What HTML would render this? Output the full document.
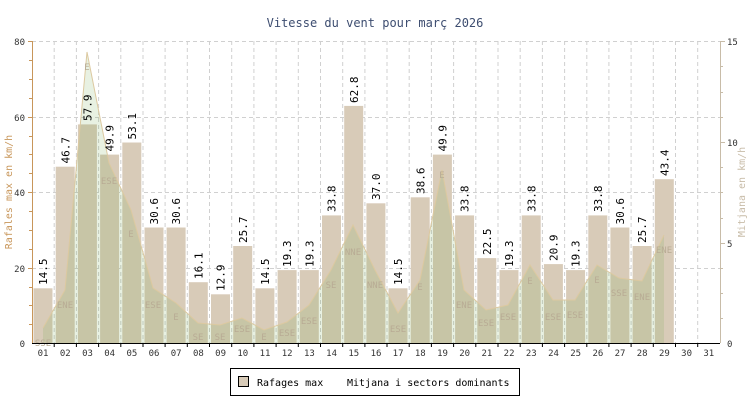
<!DOCTYPE html>
<html><head><meta charset="utf-8"><style>
body{margin:0;background:#fff;}
svg{display:block;font-family:"DejaVu Sans Mono","Liberation Mono",monospace;}
</style></head><body>
<svg width="750" height="400" viewBox="0 0 750 400">
<text x="375" y="27" text-anchor="middle" font-size="12" fill="#3d4d70">Vitesse du vent pour març 2026</text>
<g stroke="#d0d0d0" stroke-dasharray="4,3" stroke-width="1">
<line x1="32" y1="41.5" x2="720" y2="41.5"/><line x1="32" y1="117.5" x2="720" y2="117.5"/><line x1="32" y1="192.5" x2="720" y2="192.5"/><line x1="32" y1="268.5" x2="720" y2="268.5"/>
<line x1="54.2" y1="41" x2="54.2" y2="343"/><line x1="76.4" y1="41" x2="76.4" y2="343"/><line x1="98.6" y1="41" x2="98.6" y2="343"/><line x1="120.8" y1="41" x2="120.8" y2="343"/><line x1="143" y1="41" x2="143" y2="343"/><line x1="165.1" y1="41" x2="165.1" y2="343"/><line x1="187.3" y1="41" x2="187.3" y2="343"/><line x1="209.5" y1="41" x2="209.5" y2="343"/><line x1="231.7" y1="41" x2="231.7" y2="343"/><line x1="253.9" y1="41" x2="253.9" y2="343"/><line x1="276.1" y1="41" x2="276.1" y2="343"/><line x1="298.3" y1="41" x2="298.3" y2="343"/><line x1="320.5" y1="41" x2="320.5" y2="343"/><line x1="342.7" y1="41" x2="342.7" y2="343"/><line x1="364.9" y1="41" x2="364.9" y2="343"/><line x1="387" y1="41" x2="387" y2="343"/><line x1="409.2" y1="41" x2="409.2" y2="343"/><line x1="431.4" y1="41" x2="431.4" y2="343"/><line x1="453.6" y1="41" x2="453.6" y2="343"/><line x1="475.8" y1="41" x2="475.8" y2="343"/><line x1="498" y1="41" x2="498" y2="343"/><line x1="520.2" y1="41" x2="520.2" y2="343"/><line x1="542.4" y1="41" x2="542.4" y2="343"/><line x1="564.6" y1="41" x2="564.6" y2="343"/><line x1="586.8" y1="41" x2="586.8" y2="343"/><line x1="608.9" y1="41" x2="608.9" y2="343"/><line x1="631.1" y1="41" x2="631.1" y2="343"/><line x1="653.3" y1="41" x2="653.3" y2="343"/><line x1="675.5" y1="41" x2="675.5" y2="343"/><line x1="697.7" y1="41" x2="697.7" y2="343"/>
</g>
<g fill="#d8cbb8">
<rect x="33.5" y="288.3" width="19" height="54.7"/><rect x="55.7" y="166.7" width="19" height="176.3"/><rect x="77.9" y="124.4" width="19" height="218.6"/><rect x="100.1" y="154.6" width="19" height="188.4"/><rect x="122.3" y="142.5" width="19" height="200.5"/><rect x="144.5" y="227.5" width="19" height="115.5"/><rect x="166.6" y="227.5" width="19" height="115.5"/><rect x="188.8" y="282.2" width="19" height="60.8"/><rect x="211" y="294.3" width="19" height="48.7"/><rect x="233.2" y="246" width="19" height="97"/><rect x="255.4" y="288.3" width="19" height="54.7"/><rect x="277.6" y="270.1" width="19" height="72.9"/><rect x="299.8" y="270.1" width="19" height="72.9"/><rect x="322" y="215.4" width="19" height="127.6"/><rect x="344.2" y="105.9" width="19" height="237.1"/><rect x="366.4" y="203.3" width="19" height="139.7"/><rect x="388.5" y="288.3" width="19" height="54.7"/><rect x="410.7" y="197.3" width="19" height="145.7"/><rect x="432.9" y="154.6" width="19" height="188.4"/><rect x="455.1" y="215.4" width="19" height="127.6"/><rect x="477.3" y="258.1" width="19" height="84.9"/><rect x="499.5" y="270.1" width="19" height="72.9"/><rect x="521.7" y="215.4" width="19" height="127.6"/><rect x="543.9" y="264.1" width="19" height="78.9"/><rect x="566.1" y="270.1" width="19" height="72.9"/><rect x="588.3" y="215.4" width="19" height="127.6"/><rect x="610.4" y="227.5" width="19" height="115.5"/><rect x="632.6" y="246" width="19" height="97"/><rect x="654.8" y="179.2" width="19" height="163.8"/>
</g>
<polygon points="43,343 43,328 65,290 87,52 109,163 131,210 153,288 176,303 198,323 220,325 242,318 264,330 287,322 309,305 331,270 353,225 375,270 398,313 420,280 442,170 464,290 486,310 508,305 530,265 553,300 575,300 597,265 619,278 642,281 664,235 664,343" fill="rgba(115,168,75,0.16)" stroke="none"/>
<polyline points="43,328 65,290 87,52 109,163 131,210 153,288 176,303 198,323 220,325 242,318 264,330 287,322 309,305 331,270 353,225 375,270 398,313 420,280 442,170 464,290 486,310 508,305 530,265 553,300 575,300 597,265 619,278 642,281 664,235" fill="none" stroke="#dcc9a0" stroke-width="1"/>
<g font-size="9" fill="#b8ab94" text-anchor="middle">
<text x="43" y="346">SSE</text><text x="65" y="308">ENE</text><text x="87" y="70">E</text><text x="109" y="184">ESE</text><text x="131" y="237">E</text><text x="153" y="308">ESE</text><text x="176" y="320">E</text><text x="198" y="340">SE</text><text x="220" y="340">SE</text><text x="242" y="332">ESE</text><text x="264" y="340">E</text><text x="287" y="336">ESE</text><text x="309" y="324">ESE</text><text x="331" y="288">SE</text><text x="353" y="255">NNE</text><text x="375" y="288">NNE</text><text x="398" y="332">ESE</text><text x="420" y="290">E</text><text x="442" y="178">E</text><text x="464" y="308">ENE</text><text x="486" y="326">ESE</text><text x="508" y="320">ESE</text><text x="530" y="284">E</text><text x="553" y="320">ESE</text><text x="575" y="318">ESE</text><text x="597" y="283">E</text><text x="619" y="296">SSE</text><text x="642" y="300">ENE</text><text x="664" y="253">ENE</text>
</g>
<g font-size="11" fill="#000">
<text transform="translate(47.1,285) rotate(-90)">14.5</text><text transform="translate(69.3,163.5) rotate(-90)">46.7</text><text transform="translate(91.5,121) rotate(-90)">57.9</text><text transform="translate(113.7,151.5) rotate(-90)">49.9</text><text transform="translate(135.9,139.5) rotate(-90)">53.1</text><text transform="translate(158.1,224.5) rotate(-90)">30.6</text><text transform="translate(180.2,224.5) rotate(-90)">30.6</text><text transform="translate(202.4,279) rotate(-90)">16.1</text><text transform="translate(224.6,291) rotate(-90)">12.9</text><text transform="translate(246.8,243) rotate(-90)">25.7</text><text transform="translate(269,285) rotate(-90)">14.5</text><text transform="translate(291.2,267) rotate(-90)">19.3</text><text transform="translate(313.4,267) rotate(-90)">19.3</text><text transform="translate(335.6,212) rotate(-90)">33.8</text><text transform="translate(357.8,103) rotate(-90)">62.8</text><text transform="translate(380,200) rotate(-90)">37.0</text><text transform="translate(402.1,285) rotate(-90)">14.5</text><text transform="translate(424.3,194) rotate(-90)">38.6</text><text transform="translate(446.5,151.5) rotate(-90)">49.9</text><text transform="translate(468.7,212) rotate(-90)">33.8</text><text transform="translate(490.9,255) rotate(-90)">22.5</text><text transform="translate(513.1,267) rotate(-90)">19.3</text><text transform="translate(535.3,212) rotate(-90)">33.8</text><text transform="translate(557.5,261) rotate(-90)">20.9</text><text transform="translate(579.7,267) rotate(-90)">19.3</text><text transform="translate(601.9,212) rotate(-90)">33.8</text><text transform="translate(624,224.5) rotate(-90)">30.6</text><text transform="translate(646.2,243) rotate(-90)">25.7</text><text transform="translate(668.4,176) rotate(-90)">43.4</text>
</g>
<line x1="32" y1="343.5" x2="720" y2="343.5" stroke="#000"/>
<g stroke="#000">
<line x1="54.2" y1="343" x2="54.2" y2="347"/><line x1="76.4" y1="343" x2="76.4" y2="347"/><line x1="98.6" y1="343" x2="98.6" y2="347"/><line x1="120.8" y1="343" x2="120.8" y2="347"/><line x1="143" y1="343" x2="143" y2="347"/><line x1="165.1" y1="343" x2="165.1" y2="347"/><line x1="187.3" y1="343" x2="187.3" y2="347"/><line x1="209.5" y1="343" x2="209.5" y2="347"/><line x1="231.7" y1="343" x2="231.7" y2="347"/><line x1="253.9" y1="343" x2="253.9" y2="347"/><line x1="276.1" y1="343" x2="276.1" y2="347"/><line x1="298.3" y1="343" x2="298.3" y2="347"/><line x1="320.5" y1="343" x2="320.5" y2="347"/><line x1="342.7" y1="343" x2="342.7" y2="347"/><line x1="364.9" y1="343" x2="364.9" y2="347"/><line x1="387" y1="343" x2="387" y2="347"/><line x1="409.2" y1="343" x2="409.2" y2="347"/><line x1="431.4" y1="343" x2="431.4" y2="347"/><line x1="453.6" y1="343" x2="453.6" y2="347"/><line x1="475.8" y1="343" x2="475.8" y2="347"/><line x1="498" y1="343" x2="498" y2="347"/><line x1="520.2" y1="343" x2="520.2" y2="347"/><line x1="542.4" y1="343" x2="542.4" y2="347"/><line x1="564.6" y1="343" x2="564.6" y2="347"/><line x1="586.8" y1="343" x2="586.8" y2="347"/><line x1="608.9" y1="343" x2="608.9" y2="347"/><line x1="631.1" y1="343" x2="631.1" y2="347"/><line x1="653.3" y1="343" x2="653.3" y2="347"/><line x1="675.5" y1="343" x2="675.5" y2="347"/><line x1="697.7" y1="343" x2="697.7" y2="347"/>
</g>
<g font-size="9" fill="#333" text-anchor="middle">
<text x="43" y="356">01</text><text x="65.3" y="356">02</text><text x="87.5" y="356">03</text><text x="109.7" y="356">04</text><text x="131.9" y="356">05</text><text x="154" y="356">06</text><text x="176.2" y="356">07</text><text x="198.4" y="356">08</text><text x="220.6" y="356">09</text><text x="242.8" y="356">10</text><text x="265" y="356">11</text><text x="287.2" y="356">12</text><text x="309.4" y="356">13</text><text x="331.6" y="356">14</text><text x="353.8" y="356">15</text><text x="376" y="356">16</text><text x="398.1" y="356">17</text><text x="420.3" y="356">18</text><text x="442.5" y="356">19</text><text x="464.7" y="356">20</text><text x="486.9" y="356">21</text><text x="509.1" y="356">22</text><text x="531.3" y="356">23</text><text x="553.5" y="356">24</text><text x="575.7" y="356">25</text><text x="597.9" y="356">26</text><text x="620" y="356">27</text><text x="642.2" y="356">28</text><text x="664.4" y="356">29</text><text x="686.6" y="356">30</text><text x="708.8" y="356">31</text>
</g>
<line x1="32.5" y1="41" x2="32.5" y2="343" stroke="#c8965a"/>
<g stroke="#c8965a"><line x1="28" y1="41.5" x2="32" y2="41.5"/><line x1="29" y1="60.5" x2="32" y2="60.5"/><line x1="29" y1="79.5" x2="32" y2="79.5"/><line x1="29" y1="98.5" x2="32" y2="98.5"/><line x1="28" y1="117.5" x2="32" y2="117.5"/><line x1="29" y1="136.5" x2="32" y2="136.5"/><line x1="29" y1="154.5" x2="32" y2="154.5"/><line x1="29" y1="173.5" x2="32" y2="173.5"/><line x1="28" y1="192.5" x2="32" y2="192.5"/><line x1="29" y1="211.5" x2="32" y2="211.5"/><line x1="29" y1="230.5" x2="32" y2="230.5"/><line x1="29" y1="249.5" x2="32" y2="249.5"/><line x1="28" y1="268.5" x2="32" y2="268.5"/><line x1="29" y1="287.5" x2="32" y2="287.5"/><line x1="29" y1="305.5" x2="32" y2="305.5"/><line x1="29" y1="324.5" x2="32" y2="324.5"/></g>
<g font-size="9" fill="#333" text-anchor="end"><text x="25" y="45">80</text><text x="25" y="121">60</text><text x="25" y="196">40</text><text x="25" y="272">20</text><text x="25" y="347">0</text></g>
<text transform="translate(12,192) rotate(-90)" font-size="10" fill="#c8965a" text-anchor="middle">Rafales max en km/h</text>
<line x1="720.5" y1="41" x2="720.5" y2="343" stroke="#c8bca8"/>
<g stroke="#c8bca8"><line x1="720" y1="41.5" x2="725" y2="41.5"/><line x1="720" y1="66.5" x2="723" y2="66.5"/><line x1="720" y1="92.5" x2="723" y2="92.5"/><line x1="720" y1="117.5" x2="723" y2="117.5"/><line x1="720" y1="142.5" x2="725" y2="142.5"/><line x1="720" y1="167.5" x2="723" y2="167.5"/><line x1="720" y1="192.5" x2="723" y2="192.5"/><line x1="720" y1="218.5" x2="723" y2="218.5"/><line x1="720" y1="243.5" x2="725" y2="243.5"/><line x1="720" y1="268.5" x2="723" y2="268.5"/><line x1="720" y1="293.5" x2="723" y2="293.5"/><line x1="720" y1="318.5" x2="723" y2="318.5"/></g>
<g font-size="9" fill="#333"><text x="727" y="45">15</text><text x="727" y="146">10</text><text x="727" y="247">5</text><text x="727" y="347">0</text></g>
<text transform="translate(745,192) rotate(-90)" font-size="10" fill="#c8bca8" text-anchor="middle">Mitjana en km/h</text>
<rect x="230.5" y="368.5" width="289" height="27" fill="#fff" stroke="#000"/>
<rect x="238.5" y="376.5" width="10" height="10" fill="#d8cbb8" stroke="#000"/>
<text x="257" y="386" font-size="10" fill="#000">Rafages max</text>
<text x="347" y="386" font-size="10" fill="#000">Mitjana i sectors dominants</text>
</svg>
</body></html>
